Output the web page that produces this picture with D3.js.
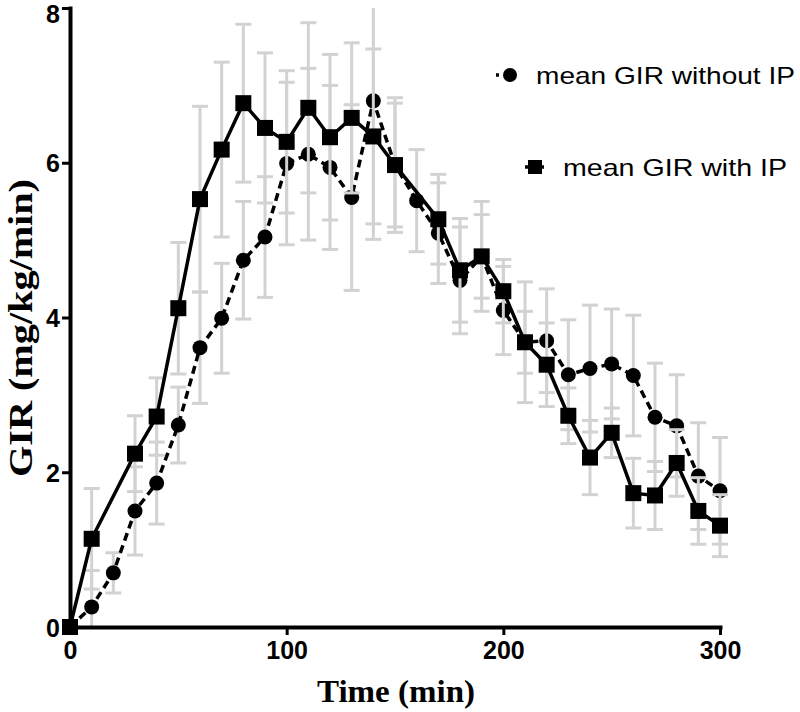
<!DOCTYPE html>
<html>
<head>
<meta charset="utf-8">
<script src="https://cdn.jsdelivr.net/npm/d3@7"></script>
<style>
  html, body { margin: 0; padding: 0; background: #fff; }
  svg { display: block; }
</style>
</head>
<body>
<svg id="chart" width="800" height="712"></svg>
<script>
// ---- data ----
const times = [0,10,20,30,40,50,60,70,80,90,100,110,120,130,140,150,160,170,180,190,200,210,220,230,240,250,260,270,280,290,300];

const girWithout = [0,0.26,0.70,1.50,1.86,2.61,3.61,3.99,4.74,5.04,5.99,6.11,5.94,5.55,6.80,5.97,5.51,5.09,4.48,4.79,4.09,3.68,3.70,3.26,3.34,3.40,3.25,2.71,2.60,1.95,1.76];
const errWithout = [0,0.47,0.26,0.57,0.53,0.49,0.72,0.71,0.76,0.78,1.05,1.11,1.06,1.20,1.79,0.80,0.66,0.65,0.69,0.71,0.57,0.78,0.67,0.71,0.82,0.71,0.78,0.70,0.66,0.69,0.69];

const girWith = [0,1.14,null,2.24,2.72,4.12,5.53,6.17,6.77,6.45,6.27,6.71,6.33,6.58,6.34,5.97,null,5.27,4.61,4.79,4.34,3.68,3.39,2.73,2.19,2.51,1.73,1.70,2.12,1.50,1.31];
const errWith = [0,0.65,null,0.49,0.50,0.85,1.20,1.13,1.02,0.97,0.92,1.10,1.07,0.97,1.13,0.87,null,0.58,0.67,0.54,0.41,0.40,0.54,0.36,0.48,0.32,0.45,0.44,0.43,0.43,0.40];

const xTicks = [0,100,200,300];
const yTicks = [0,2,4,6,8];
const legendLabels = ["mean GIR without IP", "mean GIR with IP"];
const xTitle = "Time (min)";
const yTitle = "GIR (mg/kg/min)";

// ---- layout ----
const svg = d3.select("#chart");
const x = d3.scaleLinear().domain([0,300]).range([70,720]);
const y = d3.scaleLinear().domain([0,8]).range([627,8]);
const errColor = "#d2d2d2";
const sansBold = "'Liberation Sans', Arial, Helvetica, sans-serif";
const serif = "'Liberation Serif', 'Times New Roman', Times, serif";

svg.append("defs").append("clipPath").attr("id","plotclip")
  .append("rect").attr("x",40).attr("y",8).attr("width",720).attr("height",619);

function toPts(vals, errs) {
  return times.map((t,i) => ({t, v: vals[i], e: errs[i]})).filter(d => d.v != null);
}
const ptsWithout = toPts(girWithout, errWithout);
const ptsWith = toPts(girWith, errWith);

function drawErr(pts) {
  const g = svg.append("g").attr("clip-path","url(#plotclip)")
    .attr("stroke", errColor).attr("stroke-width", 3).attr("fill","none");
  pts.filter(d => d.e > 0).forEach(d => {
    const cx = x(d.t), y1 = y(d.v + d.e), y2 = y(d.v - d.e);
    g.append("line").attr("x1",cx).attr("x2",cx).attr("y1",y1).attr("y2",y2);
    g.append("line").attr("x1",cx-8).attr("x2",cx+8).attr("y1",y1).attr("y2",y1);
    g.append("line").attr("x1",cx-8).attr("x2",cx+8).attr("y1",y2).attr("y2",y2);
  });
}

const line = d3.line().x(d => x(d.t)).y(d => y(d.v));

// series without IP (circles, dashed)
drawErr(ptsWithout);
svg.append("path").datum(ptsWithout).attr("d", line)
  .attr("fill","none").attr("stroke","#000").attr("stroke-width",3.5)
  .attr("stroke-dasharray","8,5");
svg.append("g").selectAll("circle").data(ptsWithout).join("circle")
  .attr("cx", d => x(d.t)).attr("cy", d => y(d.v)).attr("r", 7.5).attr("fill","#000");

// series with IP (squares, solid)
drawErr(ptsWith);
svg.append("path").datum(ptsWith).attr("d", line)
  .attr("fill","none").attr("stroke","#000").attr("stroke-width",3.5);
svg.append("g").selectAll("rect").data(ptsWith).join("rect")
  .attr("x", d => x(d.t) - 8).attr("y", d => y(d.v) - 8)
  .attr("width", 16).attr("height", 16).attr("fill","#000");

// ---- axes ----
const yAxis = svg.append("g").attr("transform","translate(70,0)")
  .call(d3.axisLeft(y).tickValues(yTicks).tickSize(8).tickSizeOuter(0).tickPadding(2).tickFormat(d3.format("d")));
const xAxis = svg.append("g").attr("transform","translate(0,627)")
  .call(d3.axisBottom(x).tickValues(xTicks).tickSize(8).tickSizeOuter(0).tickPadding(6).tickFormat(d3.format("d")));
[yAxis, xAxis].forEach(a => {
  a.select(".domain").attr("stroke","#000").attr("stroke-width",4).attr("stroke-linecap","square");
  a.selectAll(".tick line").attr("stroke","#000").attr("stroke-width",3);
  a.selectAll(".tick text").attr("fill","#000")
    .style("font-family", sansBold).style("font-weight","bold").style("font-size","25px");
});
yAxis.selectAll(".tick text").attr("dy", d => d === 8 ? "0.56em" : "0.36em");
xAxis.selectAll(".tick text").attr("dy","0.72em");

// ---- titles ----
svg.append("text").text(xTitle)
  .attr("x", 396).attr("y", 702).attr("text-anchor","middle")
  .attr("textLength", 158).attr("lengthAdjust","spacingAndGlyphs")
  .style("font-family", serif).style("font-weight","bold").style("font-size","31px");
svg.append("text").text(yTitle)
  .attr("transform","translate(32,328) rotate(-90)").attr("text-anchor","middle")
  .attr("textLength", 298).attr("lengthAdjust","spacingAndGlyphs")
  .style("font-family", serif).style("font-weight","bold").style("font-size","33px");

// ---- legend ----
const lg = svg.append("g");
lg.append("line").attr("x1",496).attr("x2",524).attr("y1",75).attr("y2",75)
  .attr("stroke","#000").attr("stroke-width",3.5).attr("stroke-dasharray","3,40");
lg.append("circle").attr("cx",510).attr("cy",75).attr("r",7).attr("fill","#000");
lg.append("text").text(legendLabels[0]).attr("x",536).attr("y",84)
  .attr("textLength",259).attr("lengthAdjust","spacingAndGlyphs")
  .style("font-family", sansBold).style("font-size","24px").attr("fill","#000");

lg.append("line").attr("x1",525).attr("x2",544).attr("y1",167).attr("y2",167)
  .attr("stroke","#000").attr("stroke-width",3.5);
lg.append("rect").attr("x",528).attr("y",160).attr("width",14).attr("height",14).attr("fill","#000");
lg.append("text").text(legendLabels[1]).attr("x",563).attr("y",176)
  .attr("textLength",224).attr("lengthAdjust","spacingAndGlyphs")
  .style("font-family", sansBold).style("font-size","24px").attr("fill","#000");
</script>
</body>
</html>
